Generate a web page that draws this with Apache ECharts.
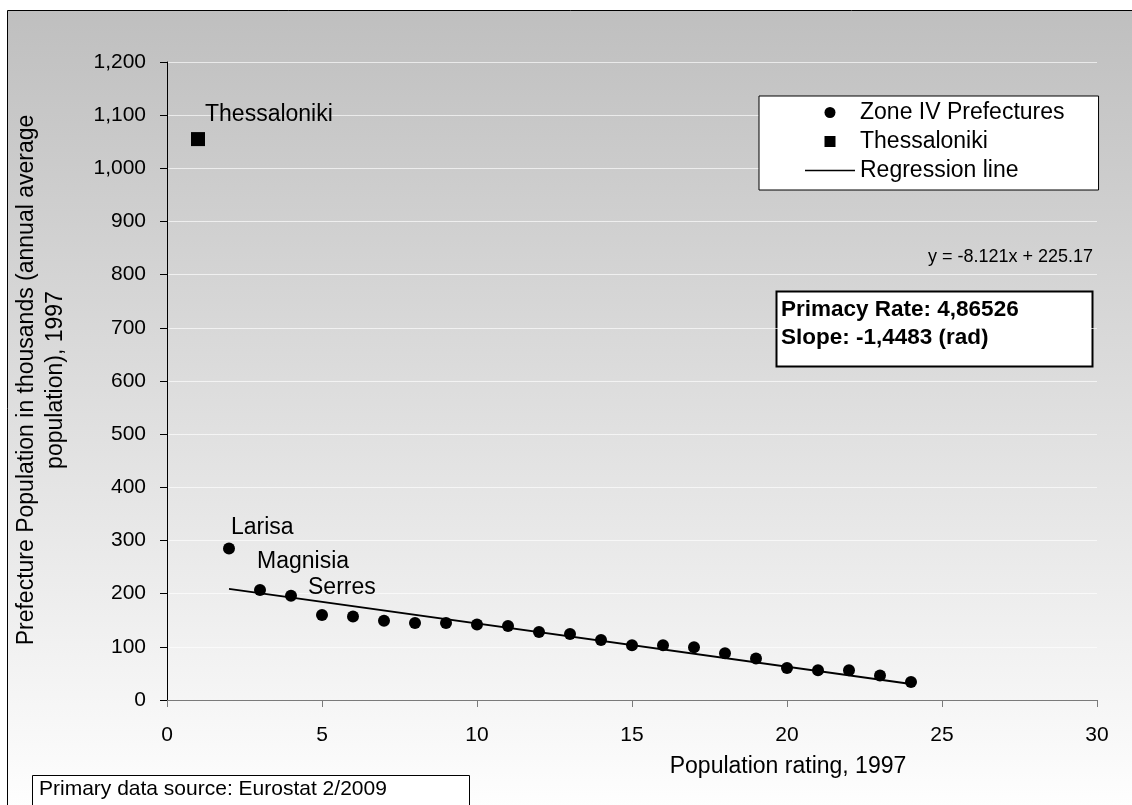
<!DOCTYPE html>
<html>
<head>
<meta charset="utf-8">
<script src="https://cdn.jsdelivr.net/npm/echarts@6/dist/echarts.min.js"></script>
<style>
  html, body { margin: 0; padding: 0; background: #fff; }
  #chart { width: 1132px; height: 805px; }
</style>
</head>
<body>
<div id="chart"></div>
<script>
// data
const ranks = [2, 3, 4, 5, 6, 7, 8, 9, 10, 11, 12, 13, 14, 15, 16, 17, 18, 19, 20, 21, 22, 23, 24]
const population = [285, 207, 196, 160, 157, 149, 145, 145, 142, 139, 128, 124, 113, 103, 103, 99, 88, 78, 60, 56, 56, 46, 34]
const pointNames = ['Larisa', 'Magnisia', 'Serres']
const capital = [1, 1055]
const capitalName = 'Thessaloniki'
const regression = [[2, 209], [24, 30]]
const equation = 'y = -8.121x + 225.17'
const infoLines = ['Primacy Rate: 4,86526', 'Slope: -1,4483 (rad)']
const sourceText = 'Primary data source: Eurostat 2/2009'
const xTitle = 'Population rating, 1997'
const yTitle = 'Prefecture Population in thousands (annual average\npopulation), 1997'

const font = 'Liberation Sans, Arial, sans-serif'

// label nudges for the named points
let labelOffsets = {
  Larisa: [-9, -21],
  Magnisia: [-14, -28],
  Serres: [6, -8]
}

let zoneData = ranks.map((r, i) => {
  let item = { value: [r, population[i]] }
  let nm = pointNames[i]
  if (nm) {
    item.name = nm
    item.label = {
      show: true,
      formatter: nm,
      position: 'right',
      offset: labelOffsets[nm],
      color: '#000',
      fontSize: 23,
      fontFamily: font
    }
  }
  return item
})

let myChart = echarts.init(document.getElementById('chart'))
let option = {
  animation: false,
  textStyle: { fontFamily: font },
  grid: { left: 167, right: 35, top: 62, bottom: 105 },
  legend: {
    orient: 'vertical',
    left: 759,
    top: 96,
    padding: [5, 34, 8, 46],
    itemWidth: 50,
    itemHeight: 11,
    itemGap: 6,
    symbolKeepAspect: true,
    backgroundColor: '#fff',
    borderColor: '#000',
    borderWidth: 1,
    borderRadius: 0,
    textStyle: { color: '#000', fontSize: 23, fontFamily: font },
    data: [
      { name: 'Zone IV Prefectures', icon: 'circle' },
      { name: 'Thessaloniki', icon: 'path://M0,0H10V10H0Z' },
      { name: 'Regression line', icon: 'path://M0,0H50V1.6H0Z' }
    ]
  },
  xAxis: {
    type: 'value',
    min: 0,
    max: 30,
    interval: 5,
    axisLine: { show: true, onZero: false, lineStyle: { color: '#7a7a7a', width: 1 } },
    axisTick: { show: true, length: 7, lineStyle: { color: '#7a7a7a' } },
    axisLabel: { color: '#000', fontSize: 21, margin: 25, fontFamily: font },
    splitLine: { show: false }
  },
  yAxis: {
    type: 'value',
    min: 0,
    max: 1200,
    interval: 100,
    axisLine: { show: true, lineStyle: { color: '#000', width: 1 } },
    axisTick: { show: true, length: 7, lineStyle: { color: '#000' } },
    axisLabel: {
      color: '#000', fontSize: 21, margin: 21, fontFamily: font,
      formatter: v => v.toLocaleString('en-US')
    },
    splitLine: { show: true, lineStyle: { color: 'rgba(255,255,255,0.65)', width: 1 } }
  },
  series: [
    {
      name: 'Regression line',
      type: 'line',
      data: regression,
      symbol: 'none',
      lineStyle: { color: '#000', width: 2 },
      itemStyle: { color: '#000' },
      z: 2
    },
    {
      name: 'Zone IV Prefectures',
      type: 'scatter',
      data: zoneData,
      symbol: 'circle',
      symbolSize: 12,
      itemStyle: { color: '#000', opacity: 1 },
      z: 3
    },
    {
      name: 'Thessaloniki',
      type: 'scatter',
      data: [{
        value: capital,
        label: {
          show: true, formatter: capitalName, position: 'right', offset: [-5, -24],
          color: '#000', fontSize: 23, fontFamily: font
        }
      }],
      symbol: 'rect',
      symbolSize: 14,
      itemStyle: { color: '#000', opacity: 1 },
      z: 3
    }
  ],
  graphic: [
    {
      type: 'rect',
      z: -10,
      shape: { x: 7.5, y: 10.5, width: 1140, height: 810 },
      style: {
        fill: new echarts.graphic.LinearGradient(0, 0, 0, 1, [
          { offset: 0, color: '#bfbfbf' },
          { offset: 1, color: '#ffffff' }
        ]),
        stroke: '#000',
        lineWidth: 1
      },
      silent: true
    },
    {
      type: 'text',
      x: 41, y: 380,
      rotation: Math.PI / 2,
      style: {
        text: yTitle, fill: '#000', fontSize: 23, fontFamily: font,
        align: 'center', verticalAlign: 'middle', lineHeight: 29
      }
    },
    {
      type: 'text',
      x: 788, y: 767,
      style: {
        text: xTitle, fill: '#000', fontSize: 23, fontFamily: font,
        align: 'center', verticalAlign: 'middle'
      }
    },
    {
      type: 'text',
      x: 1093, y: 257,
      style: {
        text: equation, fill: '#000', fontSize: 18, fontFamily: font,
        align: 'right', verticalAlign: 'middle'
      }
    },
    {
      type: 'rect',
      shape: { x: 776.5, y: 291.5, width: 316, height: 75 },
      style: { fill: '#fff', stroke: '#000', lineWidth: 2 }
    },
    {
      type: 'text',
      x: 781, y: 324,
      style: {
        text: infoLines.join('\n'), fill: '#000', fontSize: 22.5, fontWeight: 'bold', fontFamily: font,
        align: 'left', verticalAlign: 'middle', lineHeight: 28
      }
    },
    {
      type: 'rect',
      shape: { x: 32.5, y: 775.5, width: 437, height: 40 },
      style: { fill: '#fff', stroke: '#000', lineWidth: 1 }
    },
    {
      type: 'text',
      x: 39, y: 789,
      style: {
        text: sourceText, fill: '#000', fontSize: 21, fontFamily: font,
        align: 'left', verticalAlign: 'middle'
      }
    }
  ]
}
myChart.setOption(option)
</script>
</body>
</html>
